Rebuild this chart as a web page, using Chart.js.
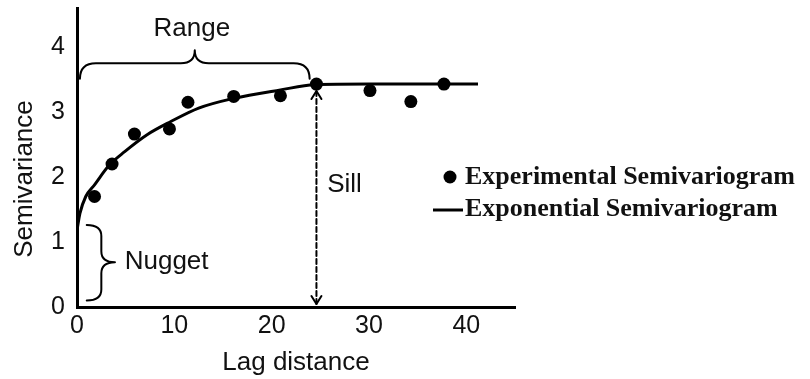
<!DOCTYPE html>
<html>
<head>
<meta charset="utf-8">
<script src="https://cdn.jsdelivr.net/npm/chart.js@4/dist/chart.umd.min.js"></script>
<style>
  html, body { margin: 0; padding: 0; background: #fff; }
  #wrap { width: 810px; height: 379px; }
</style>
</head>
<body>
<div id="wrap"><canvas id="c" width="810" height="379"></canvas></div>
<script>
// Experimental semivariogram: lag distance vs. semivariance
const lagExperimental   = [1.8, 3.6, 5.9, 9.5, 11.4, 16.1, 20.9, 24.6, 30.1, 34.3, 37.7];
const gammaExperimental = [1.70, 2.20, 2.66, 2.74, 3.15, 3.24, 3.25, 3.43, 3.33, 3.16, 3.43];

// Fitted exponential model
const lagModel   = [0, 0.3, 0.9, 1.8, 3.3, 4.9, 7.2, 9.6, 12.5, 16.1, 20.9, 24.4, 30, 35, 41.2];
const gammaModel = [1.18, 1.44, 1.70, 1.88, 2.18, 2.39, 2.65, 2.85, 3.06, 3.21, 3.34, 3.42, 3.43, 3.43, 3.43];

// Model parameters marked on the plot
const rangeLag = 24.6;
const sillValue = 3.43;

const xTicks = [0, 10, 20, 30, 40];
const yTicks = [0, 1, 2, 3, 4];
const seriesNames = ['Experimental Semivariogram', 'Exponential Semivariogram'];

const SANS = '"Liberation Sans", Arial, sans-serif';
const SERIF = '"Liberation Serif", "Times New Roman", serif';
const INK = '#111';

const notes = {
  id: 'semivariogramNotes',
  afterDraw(chart) {
    const { ctx, scales: { x, y } } = chart;
    const px = v => x.getPixelForValue(v);
    const py = v => y.getPixelForValue(v);
    ctx.save();
    ctx.strokeStyle = '#000';
    ctx.fillStyle = INK;
    ctx.lineWidth = 2;
    ctx.lineCap = 'round';
    ctx.lineJoin = 'round';

    // Range brace above the rising part of the curve
    const bL = px(0.3), bR = px(23.9), bM = px(12.1);
    const bY = py(3.75), tipY = py(3.51), peakY = py(3.95);
    ctx.beginPath();
    ctx.moveTo(bL, tipY);
    ctx.quadraticCurveTo(bL, bY, bL + 16, bY);
    ctx.lineTo(bM - 14, bY);
    ctx.quadraticCurveTo(bM, bY, bM, peakY);
    ctx.quadraticCurveTo(bM, bY, bM + 14, bY);
    ctx.lineTo(bR - 16, bY);
    ctx.quadraticCurveTo(bR, bY, bR, tipY);
    ctx.stroke();

    // Nugget brace along the y axis
    const n0 = px(1.0), n1 = px(2.5), nTip = px(3.9);
    const nTop = py(1.26), nBot = py(0.1), nMid = py(0.69);
    ctx.beginPath();
    ctx.moveTo(n0, nTop);
    ctx.quadraticCurveTo(n1, nTop, n1, nTop + 11);
    ctx.lineTo(n1, nMid - 11);
    ctx.quadraticCurveTo(n1, nMid, nTip, nMid);
    ctx.quadraticCurveTo(n1, nMid, n1, nMid + 11);
    ctx.lineTo(n1, nBot - 11);
    ctx.quadraticCurveTo(n1, nBot, n0, nBot);
    ctx.stroke();

    // Sill: dashed double-headed arrow at the range
    const sx = px(rangeLag);
    const sTop = py(sillValue) + 7, sBot = py(0) - 3;
    ctx.setLineDash([5, 3]);
    ctx.beginPath();
    ctx.moveTo(sx, sTop);
    ctx.lineTo(sx, sBot);
    ctx.stroke();
    ctx.setLineDash([]);
    ctx.beginPath();
    ctx.moveTo(sx - 5, sTop + 8); ctx.lineTo(sx, sTop); ctx.lineTo(sx + 5, sTop + 8);
    ctx.moveTo(sx - 5, sBot - 8); ctx.lineTo(sx, sBot); ctx.lineTo(sx + 5, sBot - 8);
    ctx.stroke();

    // Labels
    ctx.font = '26px ' + SANS;
    ctx.textBaseline = 'middle';
    ctx.textAlign = 'center';
    ctx.fillText('Range', px(11.8), py(4.28));
    ctx.textAlign = 'left';
    ctx.fillText('Sill', px(25.7), py(1.88));
    ctx.fillText('Nugget', px(4.9), py(0.69));

    // Y axis title
    ctx.save();
    ctx.translate(25, 179);
    ctx.rotate(-Math.PI / 2);
    ctx.textAlign = 'center';
    ctx.fillText('Semivariance', 0, 0);
    ctx.restore();

    // Legend
    ctx.fillStyle = '#000';
    ctx.beginPath();
    ctx.arc(450, 177, 6.5, 0, Math.PI * 2);
    ctx.fill();
    ctx.lineWidth = 3;
    ctx.lineCap = 'butt';
    ctx.beginPath();
    ctx.moveTo(433, 210);
    ctx.lineTo(463, 210);
    ctx.stroke();
    ctx.fillStyle = INK;
    ctx.font = 'bold 26px ' + SERIF;
    ctx.textAlign = 'left';
    ctx.textBaseline = 'alphabetic';
    ctx.fillText(seriesNames[0], 465, 184);
    ctx.fillText(seriesNames[1], 465, 216);
    ctx.restore();
  }
};

new Chart(document.getElementById('c'), {
  type: 'scatter',
  data: {
    datasets: [
      {
        label: seriesNames[0],
        data: lagExperimental.map((v, i) => ({ x: v, y: gammaExperimental[i] })),
        pointRadius: 6.5,
        pointBackgroundColor: '#000',
        pointBorderWidth: 0,
        order: 0
      },
      {
        label: seriesNames[1],
        data: lagModel.map((v, i) => ({ x: v, y: gammaModel[i] })),
        showLine: true,
        pointRadius: 0,
        borderColor: '#000',
        borderWidth: 3,
        cubicInterpolationMode: 'monotone',
        order: 1
      }
    ]
  },
  options: {
    responsive: false,
    animation: false,
    devicePixelRatio: 1,
    layout: { padding: { top: 8, right: 295, left: 0, bottom: 0 } },
    plugins: { legend: { display: false }, tooltip: { enabled: false } },
    scales: {
      x: {
        type: 'linear',
        min: 0,
        max: 45,
        grid: { display: false, drawTicks: false, tickLength: 0 },
        border: { display: true, color: '#000', width: 3 },
        afterBuildTicks: s => { s.ticks = xTicks.map(v => ({ value: v })); },
        afterFit: s => { s.height = 72; s.paddingLeft = 0; s.paddingRight = 0; },
        ticks: { color: INK, padding: 7, font: { family: SANS, size: 25, lineHeight: 1 } },
        title: {
          display: true,
          text: 'Lag distance',
          color: INK,
          font: { family: SANS, size: 26, lineHeight: 1 },
          padding: { top: 0, bottom: 3 }
        }
      },
      y: {
        type: 'linear',
        min: 0,
        max: 4.6,
        grid: { display: false, drawTicks: false, tickLength: 0 },
        border: { display: true, color: '#000', width: 3 },
        afterBuildTicks: s => { s.ticks = yTicks.map(v => ({ value: v })); },
        afterFit: s => { s.width = 77; s.paddingTop = 0; s.paddingBottom = 0; },
        ticks: { color: INK, padding: 12, font: { family: SANS, size: 25, lineHeight: 1 } }
      }
    }
  },
  plugins: [notes]
});
</script>
</body>
</html>
